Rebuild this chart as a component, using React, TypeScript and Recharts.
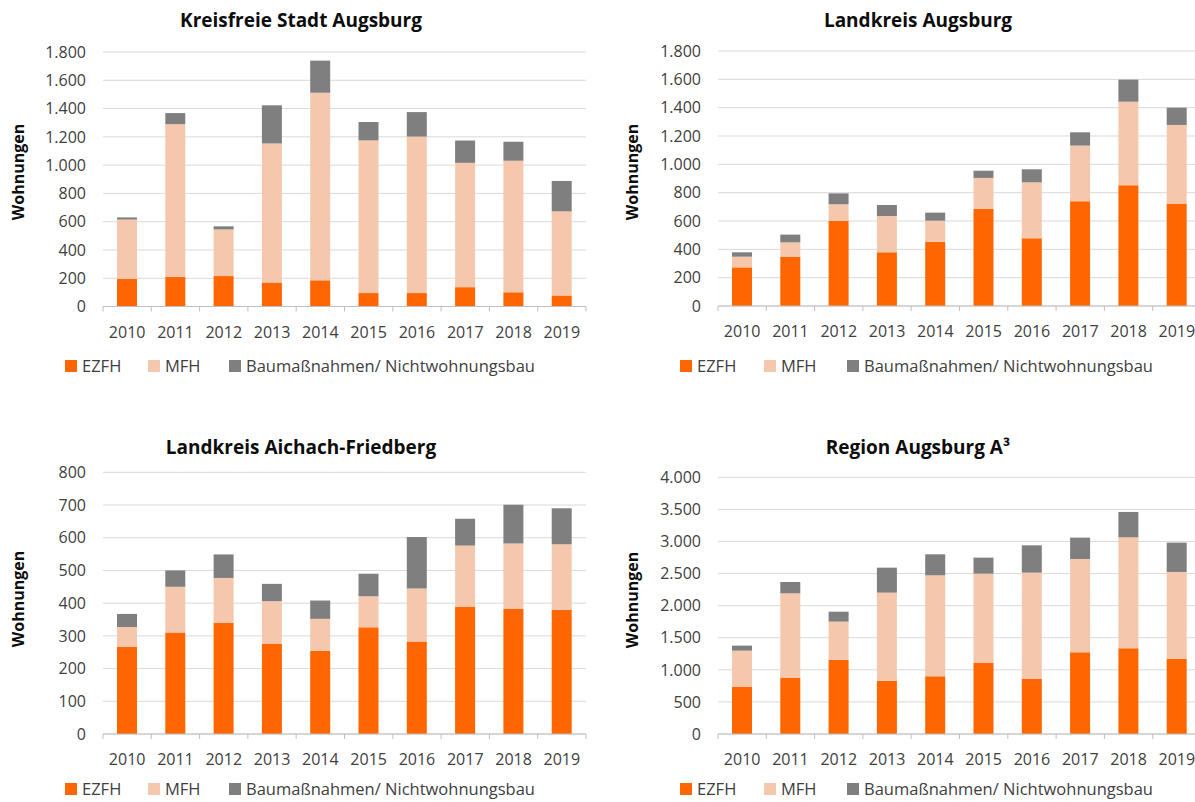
import { BarChart, Bar, XAxis, YAxis, CartesianGrid } from 'recharts';

const YEARS = ['2010', '2011', '2012', '2013', '2014', '2015', '2016', '2017', '2018', '2019'];

const SERIES_KEYS = ['ezfh', 'mfh', 'bau'];
const SERIES_NAMES = ['EZFH', 'MFH', 'Baumaßnahmen/ Nichtwohnungsbau'];
const SERIES_COLORS = ['#FF6600', '#F5C8AD', '#7F7F7F'];

// Kreisfreie Stadt Augsburg
const STADT_EZFH = [195, 210, 215, 170, 185, 95, 95, 137, 100, 78];
const STADT_MFH = [420, 1080, 330, 983, 1327, 1080, 1107, 879, 930, 595];
const STADT_BAU = [15, 78, 22, 270, 227, 130, 173, 158, 135, 215];

// Landkreis Augsburg
const LKA_EZFH = [273, 346, 600, 379, 452, 685, 478, 739, 852, 720];
const LKA_MFH = [75, 103, 118, 256, 150, 219, 395, 393, 590, 558];
const LKA_BAU = [31, 55, 77, 78, 57, 51, 92, 94, 156, 122];

// Landkreis Aichach-Friedberg
const AIC_EZFH = [266, 310, 339, 275, 254, 326, 283, 388, 382, 380];
const AIC_MFH = [61, 140, 138, 131, 98, 95, 162, 188, 200, 200];
const AIC_BAU = [40, 50, 72, 53, 56, 69, 157, 82, 119, 110];

// Region Augsburg A³
const REG_EZFH = [738, 873, 1158, 831, 899, 1106, 862, 1273, 1335, 1174];
const REG_MFH = [561, 1319, 593, 1372, 1574, 1393, 1652, 1454, 1730, 1351];
const REG_BAU = [78, 177, 155, 389, 327, 249, 426, 333, 395, 457];

const TICKS_1800 = [0, 200, 400, 600, 800, 1000, 1200, 1400, 1600, 1800];
const TICKS_800 = [0, 100, 200, 300, 400, 500, 600, 700, 800];
const TICKS_4000 = [0, 500, 1000, 1500, 2000, 2500, 3000, 3500, 4000];

const FONT = '"Open Sans", "Noto Sans", sans-serif';

const rows = (a: number[], b: number[], c: number[]) =>
  YEARS.map((year, i) => ({ year, ezfh: a[i], mfh: b[i], bau: c[i] }));

const fmt = (v: number) => String(v).replace(/\B(?=(\d{3})+(?!\d))/g, '.');

const YearTick = (props: any) => {
  const { x, y, payload, index, band } = props;
  const half = band / 2;
  return (
    <g>
      <line x1={x - half} x2={x - half} y1={y} y2={y + 5} stroke="#bfbfbf" />
      {index === YEARS.length - 1 && (
        <line x1={x + half} x2={x + half} y1={y} y2={y + 5} stroke="#bfbfbf" />
      )}
      <text x={x} y={y + 31} textAnchor="middle" fill="#404040" fontSize={16} fontFamily={FONT}>
        {payload.value}
      </text>
    </g>
  );
};

const YLabel = (props: any) => {
  const { lx, ly } = props;
  return (
    <text
      x={lx}
      y={ly}
      transform={`rotate(-90 ${lx} ${ly})`}
      textAnchor="middle"
      dominantBaseline="central"
      fontSize={16}
      fontWeight="bold"
      fontFamily={FONT}
      fill="#0d0d0d"
    >
      Wohnungen
    </text>
  );
};

const Legend3 = ({ left, top, offsets }: { left: number; top: number; offsets: number[] }) => (
  <>
    {SERIES_NAMES.map((name, i) => (
      <div
        key={name}
        style={{
          position: 'absolute',
          left: left + offsets[i],
          top,
          display: 'flex',
          alignItems: 'center',
          whiteSpace: 'nowrap',
          fontFamily: FONT,
          fontSize: 16.5,
          lineHeight: '16px',
          color: '#404040',
        }}
      >
        <span style={{ width: 12, height: 12, background: SERIES_COLORS[i], marginRight: 5, display: 'inline-block' }} />
        <span>{name}</span>
      </div>
    ))}
  </>
);

const Panel = (p: any) => {
  const plotW = p.width - p.yWidth - p.marginRight;
  const band = plotW / YEARS.length;
  return (
    <div style={{ position: 'absolute', left: p.left, top: p.top }}>
      <BarChart
        width={p.width}
        height={p.height}
        data={p.data}
        margin={{ top: p.marginTop, right: p.marginRight, bottom: p.marginBottom, left: 0 }}
      >
        <CartesianGrid vertical={false} stroke="#d9d9d9" />
        <XAxis
          dataKey="year"
          height={40}
          interval={0}
          axisLine={{ stroke: '#bfbfbf' }}
          tickLine={false}
          tickSize={0}
          tickMargin={0}
          tick={<YearTick band={band} />}
        />
        <YAxis
          width={p.yWidth}
          domain={[p.ticks[0], p.ticks[p.ticks.length - 1]]}
          ticks={p.ticks}
          interval={0}
          axisLine={false}
          tickLine={false}
          tickSize={0}
          tickMargin={17}
          tickFormatter={fmt}
          tick={{ fill: '#404040', fontSize: 16, fontFamily: FONT }}
          label={<YLabel lx={p.labelX} ly={p.labelY} />}
        />
        {SERIES_KEYS.map((k, i) => (
          <Bar key={k} dataKey={k} name={SERIES_NAMES[i]} stackId="a" fill={SERIES_COLORS[i]} barSize={20} isAnimationActive={false} />
        ))}
      </BarChart>
    </div>
  );
};

const Title = ({ cx, top, text }: { cx: number; top: number; text: string }) => (
  <div
    style={{
      position: 'absolute',
      left: cx - 200,
      top,
      width: 400,
      textAlign: 'center',
      fontFamily: FONT,
      fontWeight: 'bold',
      fontSize: 19,
      lineHeight: '19px',
      color: '#0d0d0d',
    }}
  >
    {text}
  </div>
);

export default function App() {
  return (
    <div style={{ position: 'absolute', left: 0, top: 0, width: 1195, height: 802, overflow: 'hidden', background: '#fff' }}>
      <Title cx={301} top={11} text="Kreisfreie Stadt Augsburg" />
      <Title cx={918} top={11} text="Landkreis Augsburg" />
      <Title cx={301} top={438} text="Landkreis Aichach-Friedberg" />
      <Title cx={918} top={438} text="Region Augsburg A³" />

      <Panel
        left={0} top={0} width={600} height={350}
        marginTop={52} marginBottom={3.5} marginRight={14} yWidth={103}
        ticks={TICKS_1800} data={rows(STADT_EZFH, STADT_MFH, STADT_BAU)}
        labelX={18} labelY={172}
      />
      <Panel
        left={600} top={0} width={602} height={350}
        marginTop={51} marginBottom={4} marginRight={1} yWidth={118}
        ticks={TICKS_1800} data={rows(LKA_EZFH, LKA_MFH, LKA_BAU)}
        labelX={32} labelY={172}
      />
      <Panel
        left={0} top={420} width={600} height={360}
        marginTop={52.3} marginBottom={6} marginRight={14} yWidth={103}
        ticks={TICKS_800} data={rows(AIC_EZFH, AIC_MFH, AIC_BAU)}
        labelX={18} labelY={179}
      />
      <Panel
        left={600} top={420} width={602} height={360}
        marginTop={57.3} marginBottom={6} marginRight={1} yWidth={118}
        ticks={TICKS_4000} data={rows(REG_EZFH, REG_MFH, REG_BAU)}
        labelX={32} labelY={180}
      />

      <Legend3 left={65} top={357.5} offsets={[0, 83, 164]} />
      <Legend3 left={680} top={357.5} offsets={[0, 84, 167]} />
      <Legend3 left={65} top={781} offsets={[0, 83, 164]} />
      <Legend3 left={680} top={781} offsets={[0, 84, 167]} />
    </div>
  );
}
